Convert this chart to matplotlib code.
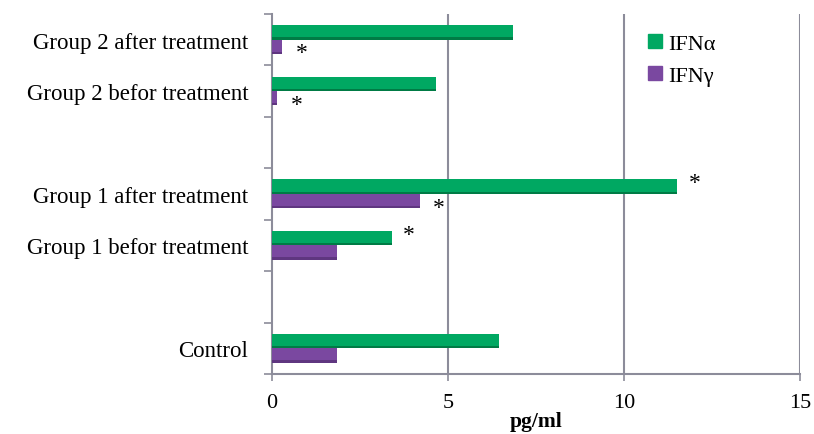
import matplotlib
matplotlib.use("Agg")
import matplotlib.pyplot as plt
from matplotlib.patches import Patch
import numpy as np

categories = ["Control", "", "Group 1 befor treatment", "Group 1 after treatment",
              "", "Group 2 befor treatment", "Group 2 after treatment"]
ifn_alpha = [6.45, np.nan, 3.4, 11.5, np.nan, 4.65, 6.85]
ifn_gamma = [1.85, np.nan, 1.85, 4.2, np.nan, 0.15, 0.3]
# asterisk marks: (series, category index)
stars = [("a", 2), ("a", 3), ("g", 3), ("g", 5), ("g", 6)]

plt.rcParams['font.family'] = ['Liberation Serif', 'DejaVu Serif']

green = "#00A862"
green_dark = "#00683A"
purple = "#7A48A0"
purple_dark = "#4E2A6C"
grid_c = "#8C8C9A"

fig = plt.figure(figsize=(8.14, 4.35), dpi=100)
ax = fig.add_axes([0.334, 0.138, 0.649, 0.828])

y = np.arange(len(categories))
h = 0.28
off = 0.14
ya = y + off
yg = y - off

a = np.array(ifn_alpha)
g = np.array(ifn_gamma)
ma = ~np.isnan(a)
mg = ~np.isnan(g)

ax.barh(ya[ma], a[ma], height=h, color=green, edgecolor="none", zorder=3)
ax.barh(ya[ma] - h * 0.42, a[ma], height=h * 0.16, color=green_dark, edgecolor="none", zorder=3, alpha=0.7)
ax.barh(yg[mg], g[mg], height=h, color=purple, edgecolor="none", zorder=3)
ax.barh(yg[mg] - h * 0.42, g[mg], height=h * 0.16, color=purple_dark, edgecolor="none", zorder=3, alpha=0.6)

for s, i in stars:
    if s == "a":
        ax.text(a[i] + 0.5, ya[i] + 0.08, "*", fontsize=17, ha="center", va="center", zorder=4)
    else:
        ax.text(g[i] + 0.55, yg[i] - 0.12, "*", fontsize=17, ha="center", va="center", zorder=4)

ax.set_xlim(0, 15)
ax.set_ylim(-0.5, 6.5)
ax.set_xticks([0, 5, 10, 15])
ax.set_xticklabels(["0", "5", "10", "15"], fontsize=16)
ax.set_yticks(y)
ax.set_yticklabels(categories, fontsize=16.5)
ax.set_yticks(np.arange(-0.5, 7.0, 1.0), minor=True)
ax.tick_params(axis="y", which="major", length=0, pad=17)
ax.tick_params(axis="y", which="minor", length=6, color=grid_c, width=1.2, direction="out")
ax.tick_params(axis="x", length=5, color=grid_c, width=1.2, pad=9)

for xv in [5, 10, 15]:
    ax.axvline(xv, color=grid_c, lw=1.5, zorder=1)

for side in ["top", "right"]:
    ax.spines[side].set_visible(False)
ax.spines["left"].set_color(grid_c)
ax.spines["left"].set_linewidth(1.5)
ax.spines["bottom"].set_color(grid_c)
ax.spines["bottom"].set_linewidth(1.5)

ax.set_xlabel("pg/ml", fontsize=15.5, fontweight="bold", labelpad=-1)

handles = [Patch(color=green, label="IFNα"), Patch(color=purple, label="IFNγ")]
leg = ax.legend(handles=handles, loc="upper left", bbox_to_anchor=(0.675, 1.0), frameon=False,
                fontsize=16, handlelength=0.6, handleheight=0.6, handletextpad=0.3, labelspacing=0.55)

fig.savefig("out.png", dpi=100)
